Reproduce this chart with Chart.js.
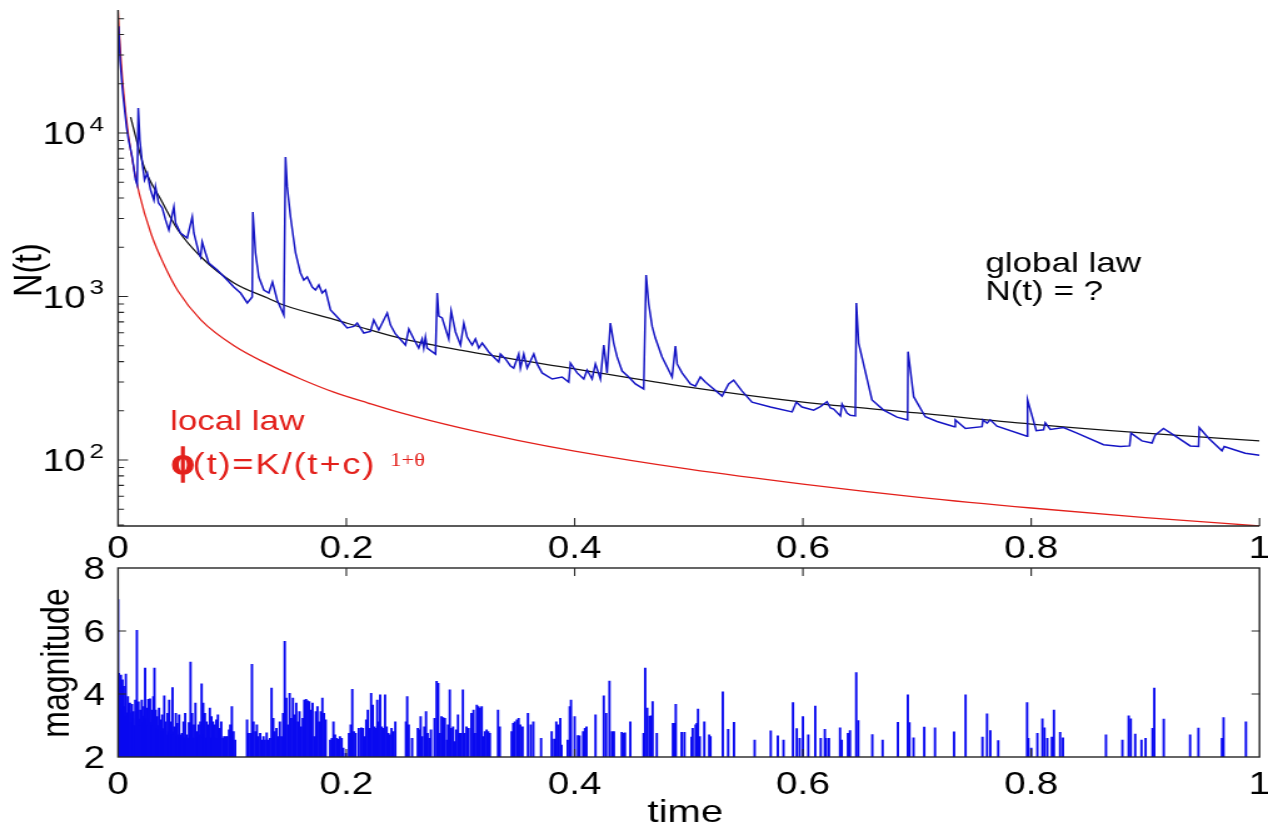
<!DOCTYPE html>
<html>
<head>
<meta charset="utf-8">
<title>N(t) and magnitudes</title>
<script src="https://cdn.jsdelivr.net/npm/chart.js@4.4.1/dist/chart.umd.min.js"></script>
<style>
  html, body { margin: 0; padding: 0; background: #fff; }
  #stage { position: relative; width: 1268px; height: 829px; overflow: hidden; background: #fff; }
  #stage canvas { position: absolute; left: 0; top: 0; width: 1268px !important; height: 829px !important; }
</style>
</head>
<body>
<div id="stage">
  <canvas id="countChart" width="1014" height="829" style="width:1268px;height:829px"></canvas>
  <canvas id="magChart" width="1014" height="829" style="width:1268px;height:829px"></canvas>
</div>
<script>
// ---- axes -------------------------------------------------------------
const timeTicks = [0, 0.2, 0.4, 0.6, 0.8, 1];
const timeTickLabels = ['0', '0.2', '0.4', '0.6', '0.8', '1'];
const countDecades = [2, 3, 4];          // labelled as 10^2, 10^3, 10^4
const magTicks = [2, 4, 6, 8];
const magTickLabels = ['2', '4', '6', '8'];

// ---- observed event rate N(t) ------------------------------------------
const obsTime = [
  0.0005, 0.0018, 0.0037, 0.0048, 0.0074, 0.0092, 0.0124, 0.0153, 0.0168, 0.0177,
  0.0191, 0.0212, 0.0232, 0.0256, 0.0285, 0.0314, 0.0328, 0.0355, 0.0387, 0.0416,
  0.0445, 0.0489, 0.0504, 0.0547, 0.0606, 0.0650, 0.0664, 0.0708, 0.0723, 0.0737,
  0.0766, 0.0795, 0.0869, 0.0956, 0.1014, 0.1073, 0.1132, 0.1175, 0.1181, 0.1204,
  0.1233, 0.1277, 0.1321, 0.1353, 0.1394, 0.1452, 0.1467, 0.1482, 0.1511, 0.1555,
  0.1598, 0.1627, 0.1657, 0.1701, 0.1730, 0.1759, 0.1788, 0.1817, 0.1861, 0.1920,
  0.2007, 0.2065, 0.2095, 0.2153, 0.2211, 0.2240, 0.2284, 0.2358, 0.2387, 0.2430,
  0.2518, 0.2547, 0.2591, 0.2634, 0.2664, 0.2678, 0.2693, 0.2708, 0.2781, 0.2796,
  0.2810, 0.2839, 0.2897, 0.2918, 0.2956, 0.3000, 0.3029, 0.3058, 0.3102, 0.3131,
  0.3160, 0.3190, 0.3248, 0.3291, 0.3335, 0.3350, 0.3394, 0.3438, 0.3466, 0.3510,
  0.3525, 0.3554, 0.3584, 0.3642, 0.3671, 0.3715, 0.3803, 0.3890, 0.3948, 0.3963,
  0.4022, 0.4080, 0.4109, 0.4153, 0.4182, 0.4226, 0.4255, 0.4284, 0.4313, 0.4342,
  0.4372, 0.4416, 0.4474, 0.4532, 0.4605, 0.4626, 0.4649, 0.4679, 0.4707, 0.4766,
  0.4854, 0.4883, 0.4898, 0.4941, 0.5014, 0.5058, 0.5102, 0.5145, 0.5189, 0.5292,
  0.5349, 0.5393, 0.5467, 0.5554, 0.5715, 0.5905, 0.5942, 0.5992, 0.6094, 0.6153,
  0.6211, 0.6240, 0.6269, 0.6328, 0.6343, 0.6386, 0.6415, 0.6459, 0.6468, 0.6488,
  0.6605, 0.6707, 0.6824, 0.6917, 0.6921, 0.6970, 0.7072, 0.7175, 0.7326, 0.7335,
  0.7423, 0.7569, 0.7578, 0.7613, 0.7641, 0.7700, 0.7963, 0.7968, 0.8044, 0.8108,
  0.8123, 0.8167, 0.8283, 0.8401, 0.8634, 0.8781, 0.8862, 0.8874, 0.8970, 0.9058,
  0.9086, 0.9159, 0.9277, 0.9393, 0.9466, 0.9472, 0.9554, 0.9671, 0.9691, 0.9772,
  0.9875, 1.0000
];
const obsCount = [
  45000, 27900, 19100, 15900, 10880, 9060, 7130, 5160, 4810, 14200,
  9060, 6550, 5160, 5690, 4480, 3890, 4680, 3730, 3480, 2940,
  2550, 3530, 2815, 2445, 2280, 3065, 2445, 1845, 1745, 2155,
  1845, 1600, 1452, 1262, 1143, 1050, 913, 993, 3287, 1845,
  1316, 1096, 1050, 1227, 952, 771, 7130, 4680, 3065, 1845,
  1392, 1262, 1316, 1143, 1096, 1176, 1050, 1096, 827, 749,
  642, 656, 688, 598, 612, 718, 624, 793, 669, 590,
  505, 633, 550, 484, 550, 484, 565, 484, 445, 1050,
  760, 739, 550, 815, 607, 505, 688, 565, 505, 550,
  484, 519, 458, 427, 398, 445, 415, 376, 365, 445,
  365, 445, 365, 445, 387, 341, 313, 322, 300, 392,
  341, 313, 355, 313, 387, 313, 505, 341, 688, 519,
  427, 350, 322, 292, 272, 1353, 900, 656, 557, 427,
  322, 498, 387, 341, 292, 283, 322, 300, 283, 246,
  292, 308, 264, 226, 211, 197, 226, 211, 202, 212,
  227, 208, 205, 186, 220, 194, 188, 186, 913, 519,
  233, 202, 183, 176, 460, 244, 184, 172, 160, 176,
  156, 160, 176, 168, 176, 161, 140, 233, 151, 153,
  169, 154, 158, 146, 124, 121, 122, 146, 131, 127,
  142, 156, 138, 122, 121, 158, 136, 114, 121, 116,
  110, 107
];

// ---- global law (fitted) -------------------------------------------------
const globalTime  = [0.011, 0.0228, 0.0377, 0.0525, 0.0727, 0.1016, 0.131, 0.145, 0.189, 0.219, 0.248, 0.30, 0.40, 0.50, 0.60, 0.70, 0.80, 0.90, 1.0];
const globalCount = [12500, 6190, 3890, 2550, 1745, 1211, 979, 887, 725, 630, 555, 470, 361, 279, 226, 194, 166, 146, 131];

// ---- local law phi(t) = K/(t+c)^(1+theta) --------------------------------
const localTime  = [0, 0.001, 0.0026, 0.0041, 0.007, 0.0114, 0.0184, 0.029, 0.040, 0.0525, 0.0727, 0.102, 0.131, 0.160, 0.189, 0.219, 0.248, 0.30, 0.35, 0.40, 0.50, 0.60, 0.70, 0.80, 0.90, 1.0];
const localCount = [56500, 41500, 28000, 20500, 12700, 7550, 4300, 2410, 1580, 1080, 718, 498, 387, 313, 260, 223, 194, 157, 132, 113.5, 88, 71.3, 59.4, 50.9, 44.5, 39.5];

// ---- event magnitudes ----------------------------------------------------
const quakeTime = [
  0.0000, 0.0007, 0.0014, 0.0021, 0.0025, 0.0032, 0.0039, 0.0045, 0.0050, 0.0057,
  0.0063, 0.0068, 0.0075, 0.0080, 0.0086, 0.0092, 0.0098, 0.0104, 0.0110, 0.0116,
  0.0122, 0.0129, 0.0136, 0.0143, 0.0151, 0.0158, 0.0165, 0.0172, 0.0179, 0.0186,
  0.0194, 0.0201, 0.0208, 0.0215, 0.0220, 0.0226, 0.0237, 0.0244, 0.0251, 0.0258,
  0.0265, 0.0272, 0.0280, 0.0287, 0.0294, 0.0301, 0.0309, 0.0314, 0.0319, 0.0325,
  0.0330, 0.0337, 0.0344, 0.0351, 0.0359, 0.0366, 0.0373, 0.0380, 0.0387, 0.0396,
  0.0405, 0.0410, 0.0416, 0.0425, 0.0434, 0.0441, 0.0448, 0.0455, 0.0463, 0.0470,
  0.0477, 0.0484, 0.0491, 0.0498, 0.0506, 0.0513, 0.0520, 0.0527, 0.0535, 0.0545,
  0.0552, 0.0560, 0.0567, 0.0574, 0.0581, 0.0588, 0.0596, 0.0603, 0.0610, 0.0621,
  0.0635, 0.0642, 0.0649, 0.0657, 0.0664, 0.0678, 0.0685, 0.0692, 0.0700, 0.0707,
  0.0714, 0.0721, 0.0732, 0.0739, 0.0746, 0.0754, 0.0761, 0.0768, 0.0775, 0.0782,
  0.0789, 0.0804, 0.0811, 0.0818, 0.0825, 0.0832, 0.0847, 0.0854, 0.0861, 0.0875,
  0.0882, 0.0890, 0.0904, 0.0918, 0.0929, 0.0944, 0.0958, 0.0972, 0.0983, 0.0997,
  0.1012, 0.1026,
  0.1130, 0.1144, 0.1159, 0.1173, 0.1187, 0.1202, 0.1216, 0.1230, 0.1245, 0.1259,
  0.1274, 0.1288, 0.1302, 0.1317, 0.1331, 0.1345, 0.1360, 0.1374, 0.1388, 0.1403,
  0.1417, 0.1431, 0.1446, 0.1460, 0.1474, 0.1489, 0.1503, 0.1518, 0.1532, 0.1546,
  0.1561, 0.1575, 0.1589, 0.1604, 0.1618, 0.1632, 0.1647, 0.1661, 0.1675, 0.1690,
  0.1704, 0.1718, 0.1733, 0.1747, 0.1761, 0.1776, 0.1790, 0.1804, 0.1819,
  0.1858, 0.1873, 0.1887, 0.1901, 0.1916, 0.1930, 0.1944, 0.1959, 0.1973, 0.1995,
  0.2023, 0.2038, 0.2052, 0.2066, 0.2081, 0.2109, 0.2131, 0.2145, 0.2160, 0.2174,
  0.2188, 0.2203, 0.2217, 0.2231, 0.2246, 0.2260, 0.2271, 0.2282, 0.2296, 0.2310,
  0.2325, 0.2339, 0.2353, 0.2368, 0.2382, 0.2396, 0.2414, 0.2429,
  0.2522, 0.2533, 0.2547, 0.2576, 0.2626, 0.2640, 0.2651, 0.2665, 0.2683, 0.2698,
  0.2712, 0.2726, 0.2741, 0.2773, 0.2791, 0.2805, 0.2820, 0.2834, 0.2848, 0.2863,
  0.2881, 0.2891, 0.2906, 0.2920, 0.2935, 0.2949, 0.2963, 0.2978, 0.2992, 0.3006,
  0.3021, 0.3035, 0.3053, 0.3071, 0.3096, 0.3114, 0.3128, 0.3143, 0.3157, 0.3171,
  0.3186, 0.3200, 0.3214, 0.3229, 0.3243, 0.3257, 0.3329, 0.3344, 0.3448, 0.3462,
  0.3476, 0.3494, 0.3509, 0.3523, 0.3544, 0.3591, 0.3616, 0.3638, 0.3706, 0.3799,
  0.3821, 0.3839, 0.3853, 0.3874, 0.3885, 0.3939, 0.3957, 0.3968, 0.4000, 0.4029,
  0.4043, 0.4075, 0.4090, 0.4104, 0.4183, 0.4255, 0.4276, 0.4305, 0.4327, 0.4344,
  0.4413, 0.4430, 0.4441,
  0.4488, 0.4604, 0.4618, 0.4636, 0.4655, 0.4673, 0.4683, 0.4720, 0.4861, 0.4872,
  0.4886, 0.4937, 0.4962, 0.5024, 0.5034, 0.5060, 0.5070, 0.5081, 0.5096, 0.5136,
  0.5179, 0.5190, 0.5298, 0.5345, 0.5396, 0.5577, 0.5718, 0.5780, 0.5830, 0.5913,
  0.5946, 0.5971, 0.6000, 0.6047, 0.6108, 0.6156, 0.6192, 0.6203, 0.6228, 0.6325,
  0.6340, 0.6394, 0.6412, 0.6467, 0.6485, 0.6608, 0.6698, 0.6832, 0.6919, 0.6933,
  0.6969, 0.7063, 0.7157, 0.7324, 0.7425, 0.7573, 0.7613, 0.7642, 0.7711, 0.7964,
  0.7975, 0.8000, 0.8054, 0.8098, 0.8116, 0.8141, 0.8181, 0.8199, 0.8253, 0.8278,
  0.8655, 0.8799, 0.8854, 0.8872, 0.8911, 0.8966, 0.9002, 0.9063, 0.9078, 0.9161,
  0.9392, 0.9465, 0.9671, 0.9685, 0.9881
];
const quakeMag = [
  7.00, 4.66, 3.90, 4.20, 4.60, 3.70, 4.45, 3.50, 4.24, 3.60,
  3.30, 4.63, 3.40, 3.20, 3.92, 3.30, 3.50, 3.71, 3.10, 3.40,
  3.67, 3.20, 3.44, 3.00, 3.81, 3.30, 6.02, 3.10, 3.75, 3.20,
  3.49, 3.00, 3.81, 3.30, 3.10, 3.60, 4.82, 3.20, 3.55, 3.00,
  3.83, 3.20, 3.85, 3.10, 3.49, 3.00, 3.92, 3.20, 4.82, 3.10,
  3.49, 2.90, 3.28, 3.00, 3.55, 2.90, 3.18, 2.80, 3.34, 2.90,
  3.94, 2.80, 3.12, 2.70, 3.39, 2.80, 3.81, 2.75, 3.12, 2.70,
  4.20, 2.80, 2.96, 2.70, 3.39, 2.65, 3.07, 2.70, 3.34, 2.70,
  2.60, 2.75, 2.60, 3.12, 2.60, 3.39, 2.65, 2.70, 2.60, 3.09,
  5.01, 2.70, 3.39, 2.60, 3.02, 3.71, 2.60, 2.81, 2.60, 3.02,
  2.70, 3.12, 4.32, 2.60, 3.71, 2.70, 3.39, 2.60, 3.12, 2.60,
  3.02, 3.55, 2.60, 3.28, 2.60, 3.12, 3.02, 2.60, 3.18, 3.34,
  2.60, 2.91, 3.12, 2.59, 2.65, 2.65, 2.65, 2.86, 3.02, 3.60,
  2.81, 2.54,
  3.18, 2.75, 2.75, 4.94, 3.12, 2.81, 3.02, 2.65, 2.75, 2.54,
  2.65, 2.54, 2.77, 2.54, 2.59, 4.19, 3.23, 2.81, 2.91, 2.65,
  3.12, 2.65, 3.39, 5.67, 3.87, 3.02, 4.02, 3.23, 3.87, 3.34,
  3.71, 3.12, 3.44, 2.96, 3.23, 3.81, 3.83, 3.78, 3.76, 3.49,
  3.71, 2.65, 3.44, 3.60, 3.12, 3.44, 3.87, 3.39, 3.18,
  2.54, 2.59, 3.12, 2.70, 2.59, 2.56, 2.65, 2.59, 2.28, 2.12,
  2.75, 3.02, 4.15, 2.81, 2.75, 2.91, 2.93, 2.91, 2.65, 3.18,
  3.49, 2.91, 4.02, 3.65, 2.96, 2.91, 3.81, 3.12, 3.97, 2.96,
  2.91, 3.97, 2.96, 2.75, 2.70, 2.91, 2.81, 3.12,
  3.12, 3.92, 3.02, 2.59, 2.91, 2.86, 3.28, 2.65, 2.96, 3.44,
  2.75, 2.59, 2.86, 3.23, 4.40, 4.34, 2.75, 3.28, 3.25, 3.23,
  2.54, 3.02, 4.13, 2.91, 2.96, 2.49, 2.86, 3.34, 2.75, 2.75,
  4.13, 2.75, 2.96, 2.91, 3.39, 3.49, 2.75, 3.65, 3.60, 3.55,
  3.60, 2.65, 2.81, 2.86, 2.81, 2.75, 3.49, 2.96, 2.81, 3.07,
  3.12, 3.18, 3.23, 3.02, 2.96, 3.39, 3.02, 3.12, 2.59, 2.81,
  2.57, 3.12, 3.02, 3.23, 2.38, 2.54, 3.60, 3.81, 3.28, 2.68,
  2.67, 2.81, 2.91, 2.96, 3.34, 3.94, 3.39, 4.41, 2.81, 2.81,
  2.78, 2.75, 2.77,
  3.12, 2.75, 4.82, 3.55, 3.30, 3.31, 3.76, 2.75, 3.07, 3.07,
  3.67, 2.78, 2.78, 2.63, 2.91, 3.02, 3.07, 3.52, 2.65, 3.12,
  2.70, 2.65, 4.07, 2.88, 3.10, 2.54, 2.83, 2.67, 2.54, 3.73,
  2.90, 2.59, 3.28, 2.70, 3.62, 2.59, 2.88, 2.59, 2.59, 2.93,
  2.54, 2.75, 2.84, 4.68, 3.16, 2.71, 2.54, 3.10, 3.97, 3.09,
  2.61, 2.95, 2.93, 2.80, 3.97, 2.63, 3.37, 2.84, 2.52, 3.73,
  2.59, 2.28, 2.75, 3.21, 2.93, 2.59, 2.63, 3.49, 2.78, 2.61,
  2.70, 2.54, 3.31, 3.21, 2.73, 2.54, 2.59, 2.91, 4.19, 3.20,
  2.70, 2.92, 2.59, 3.25, 3.12
];

// ---- drawing ------------------------------------------------------------
const SANS = "'Liberation Sans', Arial, Helvetica, sans-serif";
const SERIF = "'Liberation Serif', 'DejaVu Serif', serif";
const AXIS_INK = '#262626';
const RED = '#e3201b';
const PLOT_LEFT = 94.4;      // width reserved for the value axis
const PLOT_RIGHT_PAD = 6.8;
const TICK_FONT = `31px ${SANS}`;
const TITLE_FONT = `32px ${SANS}`;
const NOTE_FONT = `28px ${SANS}`;

function xyPairs(xs, ys) { return xs.map((x, i) => ({ x, y: ys[i] })); }

function rotatedText(ctx, text, x, y) {
  ctx.save();
  ctx.translate(x, y);
  ctx.rotate(-Math.PI / 2);
  ctx.textAlign = 'center';
  ctx.textBaseline = 'middle';
  ctx.fillText(text, 0, 0);
  ctx.restore();
}

const countDecor = {
  id: 'countDecor',
  afterDraw(chart) {
    const { ctx, chartArea: a } = chart;
    const xs = chart.scales.x, ys = chart.scales.y;
    ctx.save();
    // left and bottom axis lines
    ctx.strokeStyle = AXIS_INK;
    ctx.lineWidth = 1.4;
    ctx.beginPath();
    ctx.moveTo(a.left, a.top);
    ctx.lineTo(a.left, a.bottom);
    ctx.lineTo(a.right, a.bottom);
    ctx.stroke();
    // inward tick marks
    ctx.lineWidth = 1.1;
    ctx.beginPath();
    timeTicks.forEach(t => {
      if (t === 0) return;
      const px = xs.getPixelForValue(t);
      ctx.moveTo(px, a.bottom);
      ctx.lineTo(px, a.bottom - 8);
    });
    const lo = Math.floor(Math.log10(ys.min)), hi = Math.floor(Math.log10(ys.max));
    for (let d = lo; d <= hi; d++) {
      for (let k = 1; k <= 9; k++) {
        const v = k * Math.pow(10, d);
        if (v < ys.min || v > ys.max) continue;
        const py = ys.getPixelForValue(v);
        ctx.moveTo(a.left, py);
        ctx.lineTo(a.left + (k === 1 ? 8 : 4.8), py);
      }
    }
    ctx.stroke();

    // tick labels
    ctx.fillStyle = '#000';
    ctx.font = TICK_FONT;
    ctx.textAlign = 'center';
    ctx.textBaseline = 'middle';
    timeTicks.forEach((t, i) => ctx.fillText(timeTickLabels[i], xs.getPixelForValue(t), a.bottom + 23));
    countDecades.forEach(d => {
      const py = ys.getPixelForValue(Math.pow(10, d));
      ctx.font = TICK_FONT;
      ctx.textAlign = 'right';
      ctx.fillText('10', a.left - 26, py + 2.5);
      ctx.font = `21px ${SANS}`;
      ctx.textAlign = 'left';
      ctx.fillText(String(d), a.left - 23, py - 8);
    });

    // axis title
    ctx.font = TITLE_FONT;
    rotatedText(ctx, 'N(t)', 24.5, 270);

    // annotations
    ctx.textAlign = 'left';
    ctx.textBaseline = 'alphabetic';
    ctx.font = NOTE_FONT;
    ctx.fillStyle = '#000';
    ctx.fillText('global law', 788, 272);
    ctx.fillText('N(t) = ?', 788, 300);

    ctx.fillStyle = RED;
    ctx.fillText('local law', 136, 430);
    // stroked phi, a little narrower and heavier than the surrounding text
    ctx.save();
    ctx.translate(137, 474);
    ctx.scale(0.8, 1);
    ctx.font = `bold 37px ${SERIF}`;
    ctx.strokeStyle = RED;
    ctx.lineWidth = 1.6;
    ctx.fillText('\u03D5', 0, 0);
    ctx.strokeText('\u03D5', 0, 0);
    ctx.restore();
    ctx.font = `29px ${SANS}`;
    ctx.letterSpacing = '1.5px';
    ctx.fillText('(t)=K/(t+c)', 154, 474);
    ctx.letterSpacing = '0px';
    ctx.font = `18px ${SERIF}`;
    ctx.fillText('1+\u03B8', 312, 466);
    ctx.restore();
  }
};

const magDecor = {
  id: 'magDecor',
  afterDraw(chart) {
    const { ctx, chartArea: a } = chart;
    const xs = chart.scales.x, ys = chart.scales.y;
    ctx.save();
    ctx.strokeStyle = AXIS_INK;
    ctx.lineWidth = 1.4;
    ctx.strokeRect(a.left, a.top, a.right - a.left, a.bottom - a.top);
    ctx.lineWidth = 1.1;
    ctx.beginPath();
    timeTicks.forEach(t => {
      if (t === 0 || t === 1) return;
      const px = xs.getPixelForValue(t);
      ctx.moveTo(px, a.bottom); ctx.lineTo(px, a.bottom - 8);
      ctx.moveTo(px, a.top); ctx.lineTo(px, a.top + 8);
    });
    magTicks.forEach(m => {
      if (m === ys.min || m === ys.max) return;
      const py = ys.getPixelForValue(m);
      ctx.moveTo(a.left, py); ctx.lineTo(a.left + 6.4, py);
      ctx.moveTo(a.right, py); ctx.lineTo(a.right - 6.4, py);
    });
    ctx.stroke();

    ctx.fillStyle = '#000';
    ctx.font = TICK_FONT;
    ctx.textBaseline = 'middle';
    ctx.textAlign = 'center';
    timeTicks.forEach((t, i) => ctx.fillText(timeTickLabels[i], xs.getPixelForValue(t), a.bottom + 28));
    ctx.textAlign = 'right';
    magTicks.forEach((m, i) => ctx.fillText(magTickLabels[i], a.left - 10.5, ys.getPixelForValue(m) + 2));

    ctx.font = TITLE_FONT;
    rotatedText(ctx, 'magnitude', 46, 663);
    ctx.textAlign = 'center';
    ctx.textBaseline = 'middle';
    ctx.fillText('time', 548, 813);
    ctx.restore();
  }
};

const common = {
  responsive: false,
  animation: false,
  devicePixelRatio: 1,
  events: [],
  plugins: { legend: { display: false }, tooltip: { enabled: false } }
};

new Chart(document.getElementById('countChart'), {
  type: 'line',
  data: {
    datasets: [
      { label: 'N(t)', data: xyPairs(obsTime, obsCount), borderColor: '#1414c4', borderWidth: 1.5, tension: 0 },
      { label: 'global law', data: xyPairs(globalTime, globalCount), borderColor: '#151515', borderWidth: 1.3, cubicInterpolationMode: 'monotone' },
      { label: 'local law', data: xyPairs(localTime, localCount), borderColor: RED, borderWidth: 1.3, cubicInterpolationMode: 'monotone' }
    ]
  },
  options: {
    ...common,
    elements: { point: { radius: 0, hoverRadius: 0 }, line: { fill: false } },
    layout: { padding: { top: 10, right: PLOT_RIGHT_PAD, left: 0, bottom: 0 } },
    scales: {
      x: { type: 'linear', min: 0, max: 1, bounds: 'data',
           ticks: { display: false }, grid: { display: false }, border: { display: false },
           afterFit: s => { s.height = 303; } },
      y: { type: 'logarithmic', min: 39.5, max: 56500, bounds: 'data',
           ticks: { display: false }, grid: { display: false }, border: { display: false },
           afterFit: s => { s.width = PLOT_LEFT; } }
    }
  },
  plugins: [countDecor]
});

new Chart(document.getElementById('magChart'), {
  type: 'bar',
  data: {
    datasets: [{
      label: 'magnitude',
      data: xyPairs(quakeTime, quakeMag),
      backgroundColor: '#0a0af0',
      borderWidth: 0,
      barThickness: 1.25,
      base: 2,
      grouped: false
    }]
  },
  options: {
    ...common,
    layout: { padding: { top: 568, right: PLOT_RIGHT_PAD, left: 0, bottom: 0 } },
    scales: {
      x: { type: 'linear', offset: false, min: 0, max: 1, bounds: 'data',
           ticks: { display: false }, grid: { display: false }, border: { display: false },
           afterFit: s => { s.height = 72; } },
      y: { type: 'linear', min: 2, max: 8, bounds: 'data',
           ticks: { display: false }, grid: { display: false }, border: { display: false },
           afterFit: s => { s.width = PLOT_LEFT; } }
    }
  },
  plugins: [magDecor]
});
</script>
</body>
</html>
